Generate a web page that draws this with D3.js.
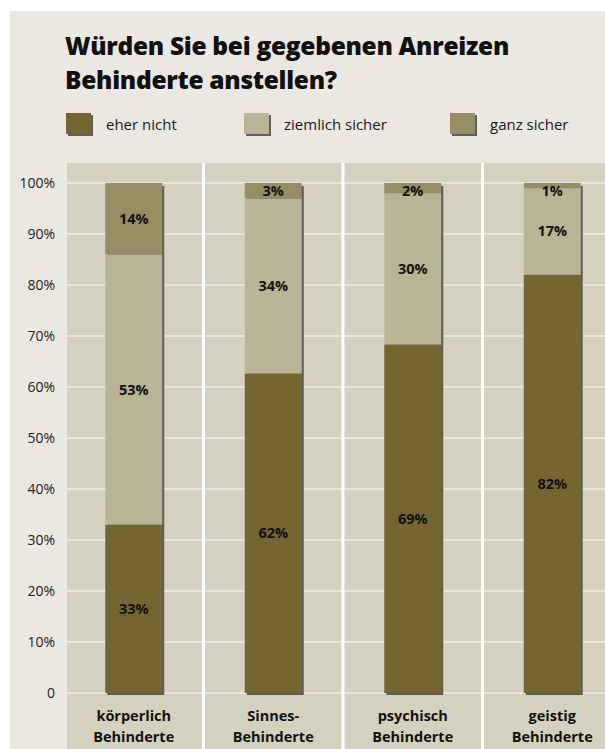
<!DOCTYPE html>
<html>
<head>
<meta charset="utf-8">
<script src="https://cdn.jsdelivr.net/npm/d3@7"></script>
<style>
  body { margin: 0; background: #fff; }
  text { font-family: "Open Sans", "DejaVu Sans", sans-serif; fill: #111; }
</style>
</head>
<body>
<div id="chart"></div>
<script>
// data
var categories = [["körperlich", "Behinderte"], ["Sinnes-", "Behinderte"], ["psychisch", "Behinderte"], ["geistig", "Behinderte"]];
var seriesNames = ["eher nicht", "ziemlich sicher", "ganz sicher"];
var eherNicht = [33, 62, 69, 82];
var ziemlichSicher = [53, 34, 30, 17];
var ganzSicher = [14, 3, 2, 1];
var tickLabels = ["0", "10%", "20%", "30%", "40%", "50%", "60%", "70%", "80%", "90%", "100%"];

var colors = ["#756631", "#bab497", "#978c62"];

function createChart(id) {

	let width = 605, height = 749;

	var svg = d3.select(id)
		.append("svg")
		.attr("width", width)
		.attr("height", height);

	// panel background
	svg.append("rect")
		.attr("x", 10).attr("y", 11)
		.attr("width", width - 10).attr("height", height - 11)
		.attr("fill", "#ebe8e2");

	// title
	var title = svg.append("text")
		.style("font-size", "24.5px")
		.style("font-weight", "800")
		.style("letter-spacing", "-0.3px");
	title.append("tspan").attr("x", 65).attr("y", 55).text("Würden Sie bei gegebenen Anreizen");
	title.append("tspan").attr("x", 65).attr("y", 89).text("Behinderte anstellen?");

	// legend
	var legendX = [66, 244, 450];
	var legend = svg.selectAll(".legend")
		.data(seriesNames)
		.enter()
		.append("g")
		.attr("class", "legend")
		.attr("transform", (d, i) => "translate(" + legendX[i] + ",113)");
	legend.append("rect")
		.attr("x", 2).attr("y", 2)
		.attr("width", 25).attr("height", 21)
		.attr("fill", "#5e5e5e");
	legend.append("rect")
		.attr("width", 25).attr("height", 21)
		.attr("fill", (d, i) => colors[i]);
	legend.append("text")
		.attr("x", 40).attr("y", 17)
		.style("font-size", "15px")
		.style("fill", "#1a1a1a")
		.text(d => d);

	// plot area
	let plotLeft = 67, plotTop = 163;
	svg.append("rect")
		.attr("x", plotLeft).attr("y", plotTop)
		.attr("width", width - plotLeft).attr("height", height - plotTop)
		.attr("fill", "#d5d1c0");

	var y = d3.scaleLinear().domain([0, 1]).range([693, 183]);
	var x = d3.scaleBand()
		.domain(d3.range(categories.length))
		.range([64, 622])
		.paddingInner(0);

	// horizontal gridlines
	svg.selectAll(".grid")
		.data(y.ticks(10))
		.enter()
		.append("line")
		.attr("class", "grid")
		.attr("x1", plotLeft).attr("x2", width)
		.attr("y1", d => y(d)).attr("y2", d => y(d))
		.attr("stroke", "#eeebe4")
		.attr("stroke-width", 1.5);

	// column separators
	svg.selectAll(".sep")
		.data(d3.range(1, categories.length))
		.enter()
		.append("line")
		.attr("class", "sep")
		.attr("x1", d => x(d)).attr("x2", d => x(d))
		.attr("y1", plotTop).attr("y2", height)
		.attr("stroke", "#ffffff")
		.attr("stroke-width", 3);

	// y axis labels
	svg.selectAll(".ylab")
		.data(y.ticks(10))
		.enter()
		.append("text")
		.attr("class", "ylab")
		.attr("x", 55)
		.attr("y", d => y(d) + 5)
		.attr("text-anchor", "end")
		.style("font-size", "14px")
		.style("fill", "#222")
		.text((d, i) => tickLabels[i]);

	// stacked bars
	var rows = categories.map((c, i) => ({ i: i, 0: eherNicht[i], 1: ziemlichSicher[i], 2: ganzSicher[i] }));
	var stack = d3.stack().keys([0, 1, 2]).offset(d3.stackOffsetExpand);
	var series = stack(rows);

	let barWidth = 57;
	var barX = i => x(i) + x.bandwidth() / 2 - barWidth / 2;

	// shadows
	svg.selectAll(".shadow")
		.data(rows)
		.enter()
		.append("rect")
		.attr("class", "shadow")
		.attr("x", d => barX(d.i) + 2)
		.attr("y", y(1) + 3)
		.attr("width", barWidth)
		.attr("height", y(0) - y(1) - 1)
		.attr("fill", "#5e5e5e");

	var groups = svg.selectAll(".series")
		.data(series)
		.enter()
		.append("g")
		.attr("class", "series")
		.attr("fill", (d, i) => colors[i]);

	groups.selectAll("rect")
		.data(d => d)
		.enter()
		.append("rect")
		.attr("x", d => barX(d.data.i))
		.attr("y", d => y(d[1]))
		.attr("width", barWidth)
		.attr("height", d => y(d[0]) - y(d[1]));

	groups.selectAll("text")
		.data((s, k) => s.map(d => ({ d: d, v: rows[d.data.i][k] })))
		.enter()
		.append("text")
		.attr("x", o => barX(o.d.data.i) + barWidth / 2)
		.attr("y", o => Math.max((y(o.d[0]) + y(o.d[1])) / 2, y(1) + 8) + 5)
		.attr("text-anchor", "middle")
		.style("font-size", "14.5px")
		.style("font-weight", "bold")
		.text(o => o.v + "%");

	// category labels
	var cat = svg.selectAll(".cat")
		.data(categories)
		.enter()
		.append("text")
		.attr("class", "cat")
		.attr("text-anchor", "middle")
		.style("font-size", "14.5px")
		.style("font-weight", "bold");
	cat.append("tspan")
		.attr("x", (d, i) => x(i) + x.bandwidth() / 2)
		.attr("y", 721)
		.text(d => d[0]);
	cat.append("tspan")
		.attr("x", (d, i) => x(i) + x.bandwidth() / 2)
		.attr("y", 742)
		.text(d => d[1]);
}

createChart("#chart");
</script>
</body>
</html>
